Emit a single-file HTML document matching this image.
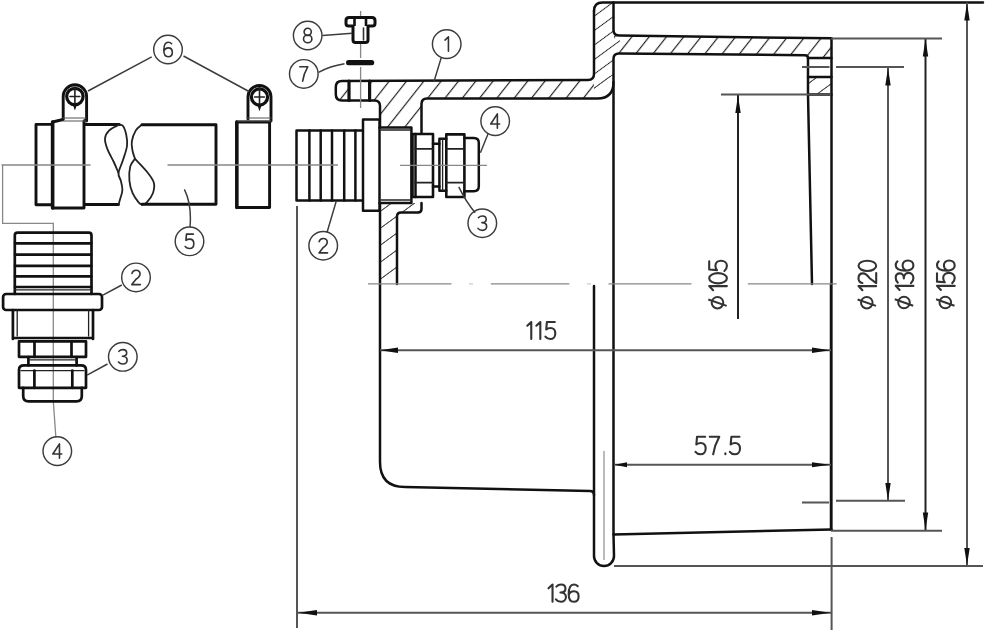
<!DOCTYPE html>
<html><head><meta charset="utf-8"><style>
html,body{margin:0;padding:0;background:#fff;width:994px;height:639px;overflow:hidden}
svg{display:block;font-family:"Liberation Sans",sans-serif}
.k{fill:none;stroke:#111;stroke-width:2.5;stroke-linejoin:round;stroke-linecap:round}
.m{fill:none;stroke:#222;stroke-width:1.8;stroke-linecap:round}
.t{fill:none;stroke:#666;stroke-width:1.6}
.d{fill:none;stroke:#555;stroke-width:2}
.c{fill:none;stroke:#888;stroke-width:1.3}
.b{fill:none;stroke:#3c3c3c;stroke-width:1.45}
#hose .k{stroke-width:2.9}
#fit2 .k{stroke-width:2.7}
.h{fill:url(#hat)}
.ar{fill:#111}
.tx{fill:#3a3a3a;font-size:26px}
.ph{fill:none;stroke:#333;stroke-width:2}
.ts{fill:none;stroke:#333;stroke-width:2.1;stroke-linecap:round;stroke-linejoin:round}
.bs{fill:none;stroke:#333;stroke-width:1.6;stroke-linecap:round;stroke-linejoin:round}
.bt{fill:#333;font-size:20px}
</style></head><body>
<svg width="994" height="639" viewBox="0 0 994 639">
<defs>
<pattern id="hatA" patternUnits="userSpaceOnUse" x="0" y="0" width="17.3" height="20" patternTransform="skewX(-38.3)">
<path d="M3.5,-1 L3.5,21" stroke="#222" stroke-width="1.5"/>
</pattern>
<pattern id="hatB" patternUnits="userSpaceOnUse" x="0" y="0" width="23.1" height="20" patternTransform="skewX(-53.7)">
<path d="M21.2,-1 L21.2,21" stroke="#222" stroke-width="1.5"/>
</pattern>
<pattern id="hatF" patternUnits="userSpaceOnUse" x="0" y="0" width="19.7" height="20" patternTransform="skewX(-53.7)">
<path d="M5.5,-1 L5.5,21" stroke="#222" stroke-width="1.5"/>
</pattern>
<clipPath id="cA"><rect x="614" y="30" width="220" height="28.5"/><rect x="330" y="76" width="264" height="26"/><rect x="378" y="99" width="50" height="30"/></clipPath>
<clipPath id="cB"><rect x="378" y="129" width="50" height="160"/><rect x="808" y="58.5" width="30" height="42"/><rect x="594" y="76" width="20" height="26"/></clipPath>
<clipPath id="cF"><rect x="590" y="0" width="24" height="76"/><rect x="614" y="0" width="6" height="60"/></clipPath>
</defs>

<!-- ===== HOUSING hatched section ===== -->
<g id="housing">
<path fill="url(#hatA)" clip-path="url(#cA)" d="M594,11 Q594,2.5 602.5,2.5 L613.5,2.5 L613.5,30 Q613.5,35.6 619.5,35.6 L831.5,38.3 L831.5,58 L808,58 Q808,55.2 805,55.2 L619,53.6 Q613.5,53.6 613.5,59 L613.5,82 Q613.5,98.5 597.5,98.5 L427,98.5 Q421.5,98.5 421.5,104 L421.5,127.5 L380,127.5 L380,106 Q380,100.5 374.5,100.5 L342,100.5 Q335.8,100.5 335.8,94.3 L335.8,87.2 Q335.8,81 342,81 L588,80 Q594,80 594,74 Z"/>
<path fill="url(#hatB)" clip-path="url(#cB)" d="M594,11 Q594,2.5 602.5,2.5 L613.5,2.5 L613.5,30 Q613.5,35.6 619.5,35.6 L831.5,38.3 L831.5,58 L808,58 Q808,55.2 805,55.2 L619,53.6 Q613.5,53.6 613.5,59 L613.5,82 Q613.5,98.5 597.5,98.5 L427,98.5 Q421.5,98.5 421.5,104 L421.5,127.5 L380,127.5 L380,106 Q380,100.5 374.5,100.5 L342,100.5 Q335.8,100.5 335.8,94.3 L335.8,87.2 Q335.8,81 342,81 L588,80 Q594,80 594,74 Z"/>
<path fill="url(#hatF)" clip-path="url(#cF)" d="M594,11 Q594,2.5 602.5,2.5 L613.5,2.5 L613.5,30 Q613.5,35.6 619.5,35.6 L831.5,38.3 L831.5,58 L808,58 Q808,55.2 805,55.2 L619,53.6 Q613.5,53.6 613.5,59 L613.5,82 Q613.5,98.5 597.5,98.5 L427,98.5 Q421.5,98.5 421.5,104 L421.5,127.5 L380,127.5 L380,106 Q380,100.5 374.5,100.5 L342,100.5 Q335.8,100.5 335.8,94.3 L335.8,87.2 Q335.8,81 342,81 L588,80 Q594,80 594,74 Z"/>
<path fill="url(#hatB)" d="M380,203 L421.5,203 L421.5,209 Q421.5,212.5 418,212.5 L401,212.5 Q397,212.5 397,216.5 L397,284 L380,284 Z"/>
<path fill="url(#hatB)" d="M808,77 L831.5,77 L831.5,94.5 L808,94.5 Z"/>
<!-- bolt hole in tab (white) -->
<rect x="349" y="81.5" width="21" height="18.5" fill="#fff"/>
<!-- outlines -->
<path class="k" d="M594,11 Q594,2.5 602.5,2.5 L983,2.5"/>
<path class="k" d="M613.5,2.5 L613.5,30 Q613.5,35.6 619.5,35.6 L831.5,38.3 L831.5,284"/>
<path class="k" d="M831.2,284 L831.2,529.5" style="stroke-width:2.9"/>
<path class="k" d="M808,58 L831.5,58 M808,77 L831.5,77 M808,94.5 L831.5,94.5"/>
<path class="k" d="M808,94.5 L808,58 Q808,55.2 805,55.2 L619,53.6 Q613.5,53.6 613.5,59 L613.5,534.5"/>
<path class="k" d="M613.5,82 Q613.5,98.5 597.5,98.5 L427,98.5 Q421.5,98.5 421.5,104 L421.5,133.5"/>
<path class="k" d="M594,11 L594,74 Q594,80 588,80 L342,81 Q335.8,81 335.8,87.2 L335.8,94.3 Q335.8,100.5 342,100.5 L374.5,100.5 Q380,100.5 380,106 L380,462 Q380,487 405,487 L590,491 Q594,491 594,495"/>
<path class="k" d="M349,81 L349,100.5 M369.6,81 L369.6,100.5" style="stroke-width:3.2"/>
<path class="k" d="M421.5,203 L421.5,209 Q421.5,212.5 418,212.5 L401,212.5 Q397,212.5 397,216.5 L397,284"/>
<path class="k" d="M808,94.5 L812,284"/>
<!-- lower half view -->
<path class="k" d="M594,286 L594,556 A10,10 0 0 0 614,556 L613.5,534.5 L831.5,529.5"/>
</g>


<!-- ===== UPPER FITTING on housing ===== -->
<g id="fit1">
<rect x="363" y="119.5" width="16.5" height="91.2" fill="#fff"/>
<rect x="379.5" y="127.4" width="32" height="75.6" fill="#fff"/>
<path class="k" d="M379.5,119.5 L363,119.5 L363,210.7 L379.5,210.7 Z"/>
<path class="k" d="M379.5,127.4 L411.4,127.4 L411.4,203 L379.5,203"/>
<path class="m" d="M381,130 L410,130 M381,200 L410,200" style="stroke-width:1.3"/>
<!-- barb -->
<path class="k" d="M362,130.5 L296.5,130.5 L296.5,200.5 L362,200.5"/>
<path class="k" d="M309.4,130.5 L309.4,200.5 M320.7,130.5 L320.7,200.5 M332,130.5 L332,200.5 M344.2,130.5 L344.2,200.5 M355.4,130.5 L355.4,200.5"/>
<!-- nut 3 -->
<path class="k" d="M412.5,134 L433,134 L433,197 L412.5,197 Z" style="stroke-width:2.6"/>
<path class="k" d="M415.5,134 L415.5,197"/>
<path class="m" d="M415,148.8 L433,148.8 M415,182.6 L433,182.6"/>
<!-- neck -->
<path class="k" d="M433,143.8 L439.4,143.8 M433,186.6 L439.4,186.6"/>
<!-- nut 4 -->
<path class="k" d="M439.4,138.8 L446.3,138.8 M439.4,190.7 L446.3,190.7 M439.4,138.8 L439.4,190.7"/>
<path class="m" d="M442.6,139 L442.6,190.5" style="stroke-width:1.3"/>
<path class="k" d="M446.3,134.4 L464.4,134.4 L464.4,197 L446.3,197 Z" style="stroke-width:2.6"/>
<path class="m" d="M446.3,148.8 L464.4,148.8 M446.3,182.6 L464.4,182.6"/>
<path class="k" d="M464.4,138.1 L473.8,138.1 Q478.8,138.1 478.8,143.1 L478.8,186.3 Q478.8,191.3 473.8,191.3 L464.4,191.3"/>
</g>
<path class="c" d="M400,165.4 L487,165.4"/>

<!-- ===== BOLT 8 & WASHER 7 ===== -->
<path class="c" d="M360.6,11 L360.6,58 M360.6,67 L360.6,108"/>
<path class="k" d="M349,17.5 L372,17.5 Q375,17.5 375,20.5 L375,23.5 Q375,26 372.5,26 L368,26 L368,40 Q368,42.6 365.5,42.6 L355.5,42.6 Q353,42.6 353,40 L353,26 L348.5,26 Q346,26 346,23.5 L346,20.5 Q346,17.5 349,17.5 Z" style="fill:#fff;stroke-width:3"/>
<path d="M354.5,18 L354.5,26 M366,18 L366,26" stroke="#111" stroke-width="2.6"/>
<path class="m" d="M363.5,28 L363.5,40" style="stroke-width:1.6;stroke:#333"/>
<rect x="346" y="60" width="28.2" height="5.2" rx="2.5" fill="#111"/>

<!-- ===== HOSE + CLAMPS ===== -->
<g id="hose" style="--w:1">
<!-- left pipe end -->
<path class="k" d="M51,124.4 L36,124.4 L36,204.7 L51,204.7"/>
<!-- clamp left -->
<path class="k" d="M52.6,122 L63,119.5 M86,119.5 L85,121 M52.6,122 L52.6,208 L84,208 L84,121"/>
<path class="k" d="M52.6,122 L52.6,208" style="stroke-width:3.6"/>
<path class="k" d="M63.2,119 L63.2,96.5 A11.7,11.7 0 0 1 86.6,96.5 L86.6,121"/>
<path class="m" d="M63,118 L86,118 M63,121 L86,121" style="stroke-width:1.2;stroke:#555"/>
<circle cx="74.9" cy="96.5" r="8.2" fill="none" stroke="#111" stroke-width="3.2"/>
<path class="m" d="M74.9,87 L74.9,106 M70,96.5 L79.8,96.5" style="stroke-width:1.6"/>
<path d="M72.4,103.5 L77.4,103.5 L74.9,110.5 Z" fill="#111"/>
<!-- hose left part -->
<path class="k" d="M85,124.5 L119.3,124.5 M85,204.5 L118.5,204.5"/>
<!-- break -->
<path class="m" d="M118.5,125.0 C119.2,125.2 121.7,124.3 123.0,126.0 C124.3,127.7 125.6,131.7 126.3,135.0 C127.0,138.3 127.5,141.8 127.0,146.0 C126.5,150.2 124.4,155.5 123.0,160.0 C121.6,164.5 118.9,169.6 118.5,173.0 C118.1,176.4 120.1,177.9 120.8,180.7 C121.5,183.5 122.5,186.9 122.4,190.0 C122.3,193.1 120.7,197.0 120.0,199.5 C119.3,202.0 118.8,204.1 118.5,205.0" style="stroke-width:1.8"/>
<path class="m" d="M118.5,125.0 C116.9,125.9 111.2,128.3 109.0,130.6 C106.8,132.8 105.2,135.4 105.0,138.5 C104.8,141.6 106.0,145.5 107.5,149.4 C109.0,153.3 112.0,158.1 113.8,162.0 C115.6,165.9 117.7,171.2 118.5,173.0" style="stroke-width:1.8"/>
<path class="m" d="M142.0,124.6 C140.9,125.6 137.4,127.8 135.7,130.6 C134.0,133.4 132.3,138.2 131.8,141.6 C131.3,145.0 132.1,148.1 132.6,151.0 C133.1,153.9 134.6,157.5 135.0,158.8" style="stroke-width:1.8"/>
<path class="m" d="M135.0,158.8 C136.9,160.9 143.5,167.4 146.6,171.3 C149.7,175.2 152.6,178.7 153.7,182.3 C154.8,186.0 154.1,189.8 152.9,193.2 C151.7,196.6 148.4,200.7 146.6,202.6 C144.8,204.5 142.8,204.3 142.0,204.6" style="stroke-width:1.8"/>
<path class="m" d="M135.0,158.8 C134.2,160.1 131.1,162.9 130.2,166.6 C129.3,170.2 129.0,176.3 129.4,180.7 C129.8,185.1 131.0,189.5 132.6,193.2 C134.2,196.8 137.2,200.7 138.8,202.6 C140.4,204.5 141.5,204.3 142.0,204.6" style="stroke-width:1.8"/>
<!-- hose right part -->
<path class="k" d="M142,124.8 L216,124.8 L216,204.3 L142,204.3"/>
<!-- clamp right -->
<path class="k" d="M236.8,122 L269.6,122 L269.6,207.5 L236.8,207.5 Z"/>
<path class="k" d="M236.8,122 L236.8,207.5" style="stroke-width:3.4"/>
<path class="k" d="M248,119 L248,97 A11.5,11.5 0 0 1 271,97 L271,121"/>
<path class="m" d="M247,118 L271,118 M238,121 L271,121" style="stroke-width:1.2;stroke:#555"/>
<circle cx="259.5" cy="97" r="8.1" fill="none" stroke="#111" stroke-width="3.2"/>
<path class="m" d="M259.5,87.5 L259.5,107 M254.6,97 L264.4,97" style="stroke-width:1.6"/>
<path d="M257,104 L262,104 L259.5,111.3 Z" fill="#111"/>
</g>
<path class="c" d="M1.5,165 L90.5,165 M167.5,165 L338,165"/>
<path class="c" d="M2.6,165 L2.6,223.4 L53.3,223.4 L53.3,401 M53.3,401 L55.9,437.7"/>

<!-- ===== LOWER FITTING (left) ===== -->
<g id="fit2">
<path class="k" d="M14.8,294 L14.8,235.5 Q14.8,232.7 17.6,232.7 L88.7,232.7 Q91.5,232.7 91.5,235.5 L91.5,294"/>
<path class="k" d="M15,243.3 L91.3,243.3 M15,254.6 L91.3,254.6 M15,265.8 L91.3,265.8 M15,276.4 L91.3,276.4 M15,287 L91.3,287"/>
<path class="m" d="M15,289.8 L91.3,289.8" style="stroke-width:1.2"/>
<rect class="k" x="3.1" y="294" width="98.9" height="16" rx="3"/>
<path class="k" d="M12.9,310 L12.9,339 M93,310 L93,339 M12.9,338 L93,338"/>
<path class="m" d="M17.2,310 L17.2,336 M88.6,310 L88.6,336" style="stroke-width:1.3"/>
<rect class="k" x="19" y="341.3" width="67" height="15.5"/>
<path class="k" d="M34.5,341.3 L34.5,356.8 M71.5,341.3 L71.5,356.8"/>
<path class="k" d="M28.4,357 L28.4,365.4 M76.6,357 L76.6,365.4"/>
<path class="m" d="M29,359.8 L76,359.8" style="stroke-width:1.2"/>
<path class="k" d="M19,387.8 L19,370 Q19,365.4 24,365.4 L81,365.4 Q86,365.4 86,370 L86,387.8 Z"/>
<path class="m" d="M21,370.6 L84,370.6" style="stroke-width:1.3"/>
<path class="k" d="M34.4,370.6 L34.4,387.8 M72.3,370.6 L72.3,387.8"/>
<path class="k" d="M23.2,387.8 L23.2,396 Q23.2,401.3 28.5,401.3 L76.5,401.3 Q81.8,401.3 81.8,396 L81.8,387.8"/>
</g>

<!-- center lines -->
<path class="c" d="M368,283.8 L451.5,283.8 M490.8,283.8 L569.3,283.8 M608.5,283.8 L691.5,283.8 M747.8,283.8 L836.7,283.8"/>
<path d="M469,283.8 L473,283.8 M587,283.8 L591,283.8" stroke="#ccc" stroke-width="1.3"/>

<!-- ===== BALLOONS ===== -->
<circle class="b" cx="168" cy="49.5" r="14.3"/>
<path class="bs" d="M171.60,43.74 C170.59,42.73 169.44,42.30 168.29,42.30 C165.41,42.30 163.82,45.76 163.82,50.36 C163.82,54.68 165.55,56.70 168.14,56.70 C170.74,56.70 172.32,54.83 172.32,52.24 C172.32,49.64 170.74,47.92 168.29,47.92 C166.13,47.92 164.54,49.21 163.82,50.94"/>
<circle class="b" cx="189.5" cy="241.3" r="14.3"/>
<path class="bs" d="M193.39,234.10 L186.48,234.10 L185.90,240.44 C187.20,239.43 188.35,239.14 189.64,239.14 C192.24,239.14 193.82,241.16 193.82,243.75 C193.82,246.63 191.95,248.50 189.50,248.50 C187.77,248.50 186.19,247.78 185.18,246.48"/>
<circle class="b" cx="323.2" cy="245.7" r="14.3"/>
<path class="bs" d="M319.17,241.67 C319.60,239.51 321.33,238.50 323.20,238.50 C325.65,238.50 327.23,239.94 327.23,242.24 C327.23,244.55 325.36,245.99 323.20,247.57 L319.02,252.90 L327.52,252.90"/>
<circle class="b" cx="482.3" cy="223.2" r="14.3"/>
<path class="bs" d="M478.41,217.73 C479.56,216.43 481.00,216.00 482.44,216.00 C484.75,216.00 486.19,217.44 486.19,219.46 C486.19,221.47 484.46,222.62 481.87,222.62 C484.75,222.62 486.62,224.21 486.62,226.37 C486.62,228.96 484.60,230.40 482.30,230.40 C480.57,230.40 478.99,229.68 477.98,228.38"/>
<circle class="b" cx="495.2" cy="121.1" r="14.3"/>
<path class="bs" d="M497.36,128.30 L497.36,113.90 L490.74,123.98 L499.66,123.98"/>
<circle class="b" cx="446.7" cy="44.1" r="14.3"/>
<path class="bs" d="M444.97,40.07 L448.43,36.90 L448.43,51.30"/>
<circle class="b" cx="303.8" cy="73.9" r="14.3"/>
<path class="bs" d="M299.77,66.70 L307.83,66.70 C305.53,70.73 303.51,75.34 302.65,81.10"/>
<circle class="b" cx="307.7" cy="35.5" r="14.3"/>
<path class="bs" d="M307.70,28.30 C309.69,28.30 311.30,29.88 311.30,31.83 C311.30,33.78 309.69,35.36 307.70,35.36 C305.71,35.36 304.10,33.78 304.10,31.83 C304.10,29.88 305.71,28.30 307.70,28.30 M307.70,35.07 C310.01,35.07 311.88,36.78 311.88,38.88 C311.88,40.99 310.01,42.70 307.70,42.70 C305.39,42.70 303.52,40.99 303.52,38.88 C303.52,36.78 305.39,35.07 307.70,35.07"/>
<circle class="b" cx="136" cy="277.4" r="14.3"/>
<path class="bs" d="M131.97,273.37 C132.40,271.21 134.13,270.20 136.00,270.20 C138.45,270.20 140.03,271.64 140.03,273.94 C140.03,276.25 138.16,277.69 136.00,279.27 L131.82,284.60 L140.32,284.60"/>
<circle class="b" cx="122.8" cy="356.8" r="14.3"/>
<path class="bs" d="M118.91,351.33 C120.06,350.03 121.50,349.60 122.94,349.60 C125.25,349.60 126.69,351.04 126.69,353.06 C126.69,355.07 124.96,356.22 122.37,356.22 C125.25,356.22 127.12,357.81 127.12,359.97 C127.12,362.56 125.10,364.00 122.80,364.00 C121.07,364.00 119.49,363.28 118.48,361.98"/>
<circle class="b" cx="57.3" cy="451.1" r="14.3"/>
<path class="bs" d="M59.46,458.30 L59.46,443.90 L52.84,453.98 L61.76,453.98"/>
<path class="b" d="M151.7,56.8 L88,91 M183.5,56 L249,91.5 M184.4,189.4 Q192,205 190,227 M336.3,201 L327,232.5 M458.8,186.9 Q466,202 475.2,212.7 M488,134 L480.4,152.8 M441.2,57.8 L434.1,81.3 M318.6,72.3 Q330,66 344.5,63.7 M322.6,35.5 L352.3,33.2 M121.8,285 L102.4,295.3 M107.5,364 L87.1,375.2"/>

<!-- ===== DIMENSIONS ===== -->
<path class="d" d="M380,350.3 L831,350.3"/>
<path class="d" d="M614,464.8 L831,464.8"/>
<path class="d" d="M297,612.8 L831,612.8"/>
<path class="d" d="M297,206 L297,628 M831.6,537 L831.6,630"/>
<path class="t" d="M604,451 L604,560" style="stroke:#aaa"/>
<path class="d" d="M738,95 L738,319" style="stroke:#222"/>
<path class="d" d="M721,94.4 L831,94.4"/>
<path class="d" d="M888,67.5 L888,501 M802,67 L829.5,67 M836,67 L904,67 M802,502.5 L829,502.5 M836,500.8 L905,500.8"/>
<path class="d" d="M925.5,38.5 L925.5,530.5" style="stroke:#222"/>
<path class="d" d="M831,38.5 L942,38.5 M831,530.7 L942,530.7"/>
<path class="d" d="M967,2.5 L967,566 M614,566 L983,566"/>
<!-- arrows -->
<g class="ar">
<path d="M380,350.3 L398,347.6 L398,353 Z"/>
<path d="M830,350.3 L812,347.6 L812,353 Z"/>
<path d="M614.5,464.8 L627,462.3 L627,467.3 Z"/>
<path d="M830,464.8 L812,462.3 L812,467.3 Z"/>
<path d="M298,612.8 L317,610.1 L317,615.5 Z"/>
<path d="M830.5,612.8 L812,610.1 L812,615.5 Z"/>
<path d="M738,95.5 L735.3,113 L740.7,113 Z"/>
<path d="M888,68 L885.3,85.5 L890.7,85.5 Z"/>
<path d="M888,500.5 L885.3,483 L890.7,483 Z"/>
<path d="M925.5,39 L922.8,56.5 L928.2,56.5 Z"/>
<path d="M925.5,530 L922.8,512.5 L928.2,512.5 Z"/>
<path d="M967,3 L964.3,20.5 L969.7,20.5 Z"/>
<path d="M967,565.5 L964.3,548 L969.7,548 Z"/>
</g>
<path class="ts" d="M527.30,325.74 L531.26,322.00 L531.26,339.00 M536.35,325.74 L540.31,322.00 L540.31,339.00 M554.81,322.00 L546.89,322.00 L546.23,329.48 C547.71,328.29 549.03,327.95 550.52,327.95 C553.49,327.95 555.30,330.33 555.30,333.39 C555.30,336.79 553.16,339.00 550.35,339.00 C548.37,339.00 546.56,338.15 545.41,336.62"/>
<path class="ts" d="M705.18,436.80 L697.03,436.80 L696.35,444.50 C697.88,443.28 699.23,442.93 700.76,442.93 C703.82,442.93 705.68,445.38 705.68,448.53 C705.68,452.03 703.48,454.30 700.59,454.30 C698.56,454.30 696.69,453.43 695.50,451.85 M709.77,436.80 L719.27,436.80 C716.56,441.70 714.18,447.30 713.16,454.30 M725.36,453.25 L725.36,454.30 M739.49,436.80 L731.34,436.80 L730.66,444.50 C732.19,443.28 733.55,442.93 735.08,442.93 C738.13,442.93 740.00,445.38 740.00,448.53 C740.00,452.03 737.79,454.30 734.91,454.30 C732.87,454.30 731.00,453.43 729.82,451.85"/>
<path class="ts" d="M548.50,588.31 L552.53,584.50 L552.53,601.80 M556.39,586.58 C557.73,585.02 559.41,584.50 561.08,584.50 C563.77,584.50 565.45,586.23 565.45,588.65 C565.45,591.07 563.43,592.46 560.41,592.46 C563.77,592.46 565.95,594.36 565.95,596.96 C565.95,600.07 563.60,601.80 560.92,601.80 C558.90,601.80 557.06,600.93 555.88,599.38 M577.76,586.23 C576.59,585.02 575.24,584.50 573.90,584.50 C570.55,584.50 568.70,588.65 568.70,594.19 C568.70,599.38 570.71,601.80 573.73,601.80 C576.75,601.80 578.60,599.55 578.60,596.44 C578.60,593.32 576.75,591.25 573.90,591.25 C571.38,591.25 569.54,592.80 568.70,594.88"/>
<g transform="translate(727.5,309.7) rotate(-90)"><circle class="ph" cx="7" cy="-10" r="5.8"/><path class="ph" d="M3.8,-0.8 L10.2,-19.2"/><path class="ts" d="M19.50,-14.41 L23.62,-18.30 L23.62,-0.60 M31.47,-18.30 C34.32,-18.30 36.62,-14.34 36.62,-9.45 C36.62,-4.56 34.32,-0.60 31.47,-0.60 C28.63,-0.60 26.32,-4.56 26.32,-9.45 C26.32,-14.34 28.63,-18.30 31.47,-18.30 M48.48,-18.30 L40.24,-18.30 L39.56,-10.51 C41.10,-11.75 42.48,-12.11 44.02,-12.11 C47.11,-12.11 49.00,-9.63 49.00,-6.44 C49.00,-2.90 46.77,-0.60 43.85,-0.60 C41.79,-0.60 39.90,-1.49 38.70,-3.08"/></g>
<g transform="translate(876.8,309.7) rotate(-90)"><circle class="ph" cx="7" cy="-10" r="5.8"/><path class="ph" d="M3.8,-0.8 L10.2,-19.2"/><path class="ts" d="M19.50,-14.41 L23.62,-18.30 L23.62,-0.60 M26.66,-14.41 C27.18,-17.06 29.24,-18.30 31.47,-18.30 C34.39,-18.30 36.28,-16.53 36.28,-13.70 C36.28,-10.87 34.05,-9.10 31.47,-7.15 L26.49,-0.60 L36.62,-0.60 M43.85,-18.30 C46.69,-18.30 49.00,-14.34 49.00,-9.45 C49.00,-4.56 46.69,-0.60 43.85,-0.60 C41.00,-0.60 38.70,-4.56 38.70,-9.45 C38.70,-14.34 41.00,-18.30 43.85,-18.30"/></g>
<g transform="translate(914,309.5) rotate(-90)"><circle class="ph" cx="7" cy="-10" r="5.8"/><path class="ph" d="M3.8,-0.8 L10.2,-19.2"/><path class="ts" d="M19.50,-14.41 L23.62,-18.30 L23.62,-0.60 M26.84,-16.18 C28.21,-17.77 29.93,-18.30 31.64,-18.30 C34.39,-18.30 36.11,-16.53 36.11,-14.05 C36.11,-11.57 34.05,-10.16 30.96,-10.16 C34.39,-10.16 36.62,-8.21 36.62,-5.56 C36.62,-2.37 34.22,-0.60 31.47,-0.60 C29.41,-0.60 27.52,-1.49 26.32,-3.08 M48.14,-16.53 C46.94,-17.77 45.57,-18.30 44.19,-18.30 C40.76,-18.30 38.87,-14.05 38.87,-8.39 C38.87,-3.08 40.93,-0.60 44.02,-0.60 C47.11,-0.60 49.00,-2.90 49.00,-6.09 C49.00,-9.27 47.11,-11.40 44.19,-11.40 C41.62,-11.40 39.73,-9.80 38.87,-7.68"/></g>
<g transform="translate(955.3,309.5) rotate(-90)"><circle class="ph" cx="7" cy="-10" r="5.8"/><path class="ph" d="M3.8,-0.8 L10.2,-19.2"/><path class="ts" d="M19.50,-14.41 L23.62,-18.30 L23.62,-0.60 M36.11,-18.30 L27.87,-18.30 L27.18,-10.51 C28.72,-11.75 30.10,-12.11 31.64,-12.11 C34.73,-12.11 36.62,-9.63 36.62,-6.44 C36.62,-2.90 34.39,-0.60 31.47,-0.60 C29.41,-0.60 27.52,-1.49 26.32,-3.08 M48.14,-16.53 C46.94,-17.77 45.57,-18.30 44.19,-18.30 C40.76,-18.30 38.87,-14.05 38.87,-8.39 C38.87,-3.08 40.93,-0.60 44.02,-0.60 C47.11,-0.60 49.00,-2.90 49.00,-6.09 C49.00,-9.27 47.11,-11.40 44.19,-11.40 C41.62,-11.40 39.73,-9.80 38.87,-7.68"/></g>
</svg>
</body></html>
